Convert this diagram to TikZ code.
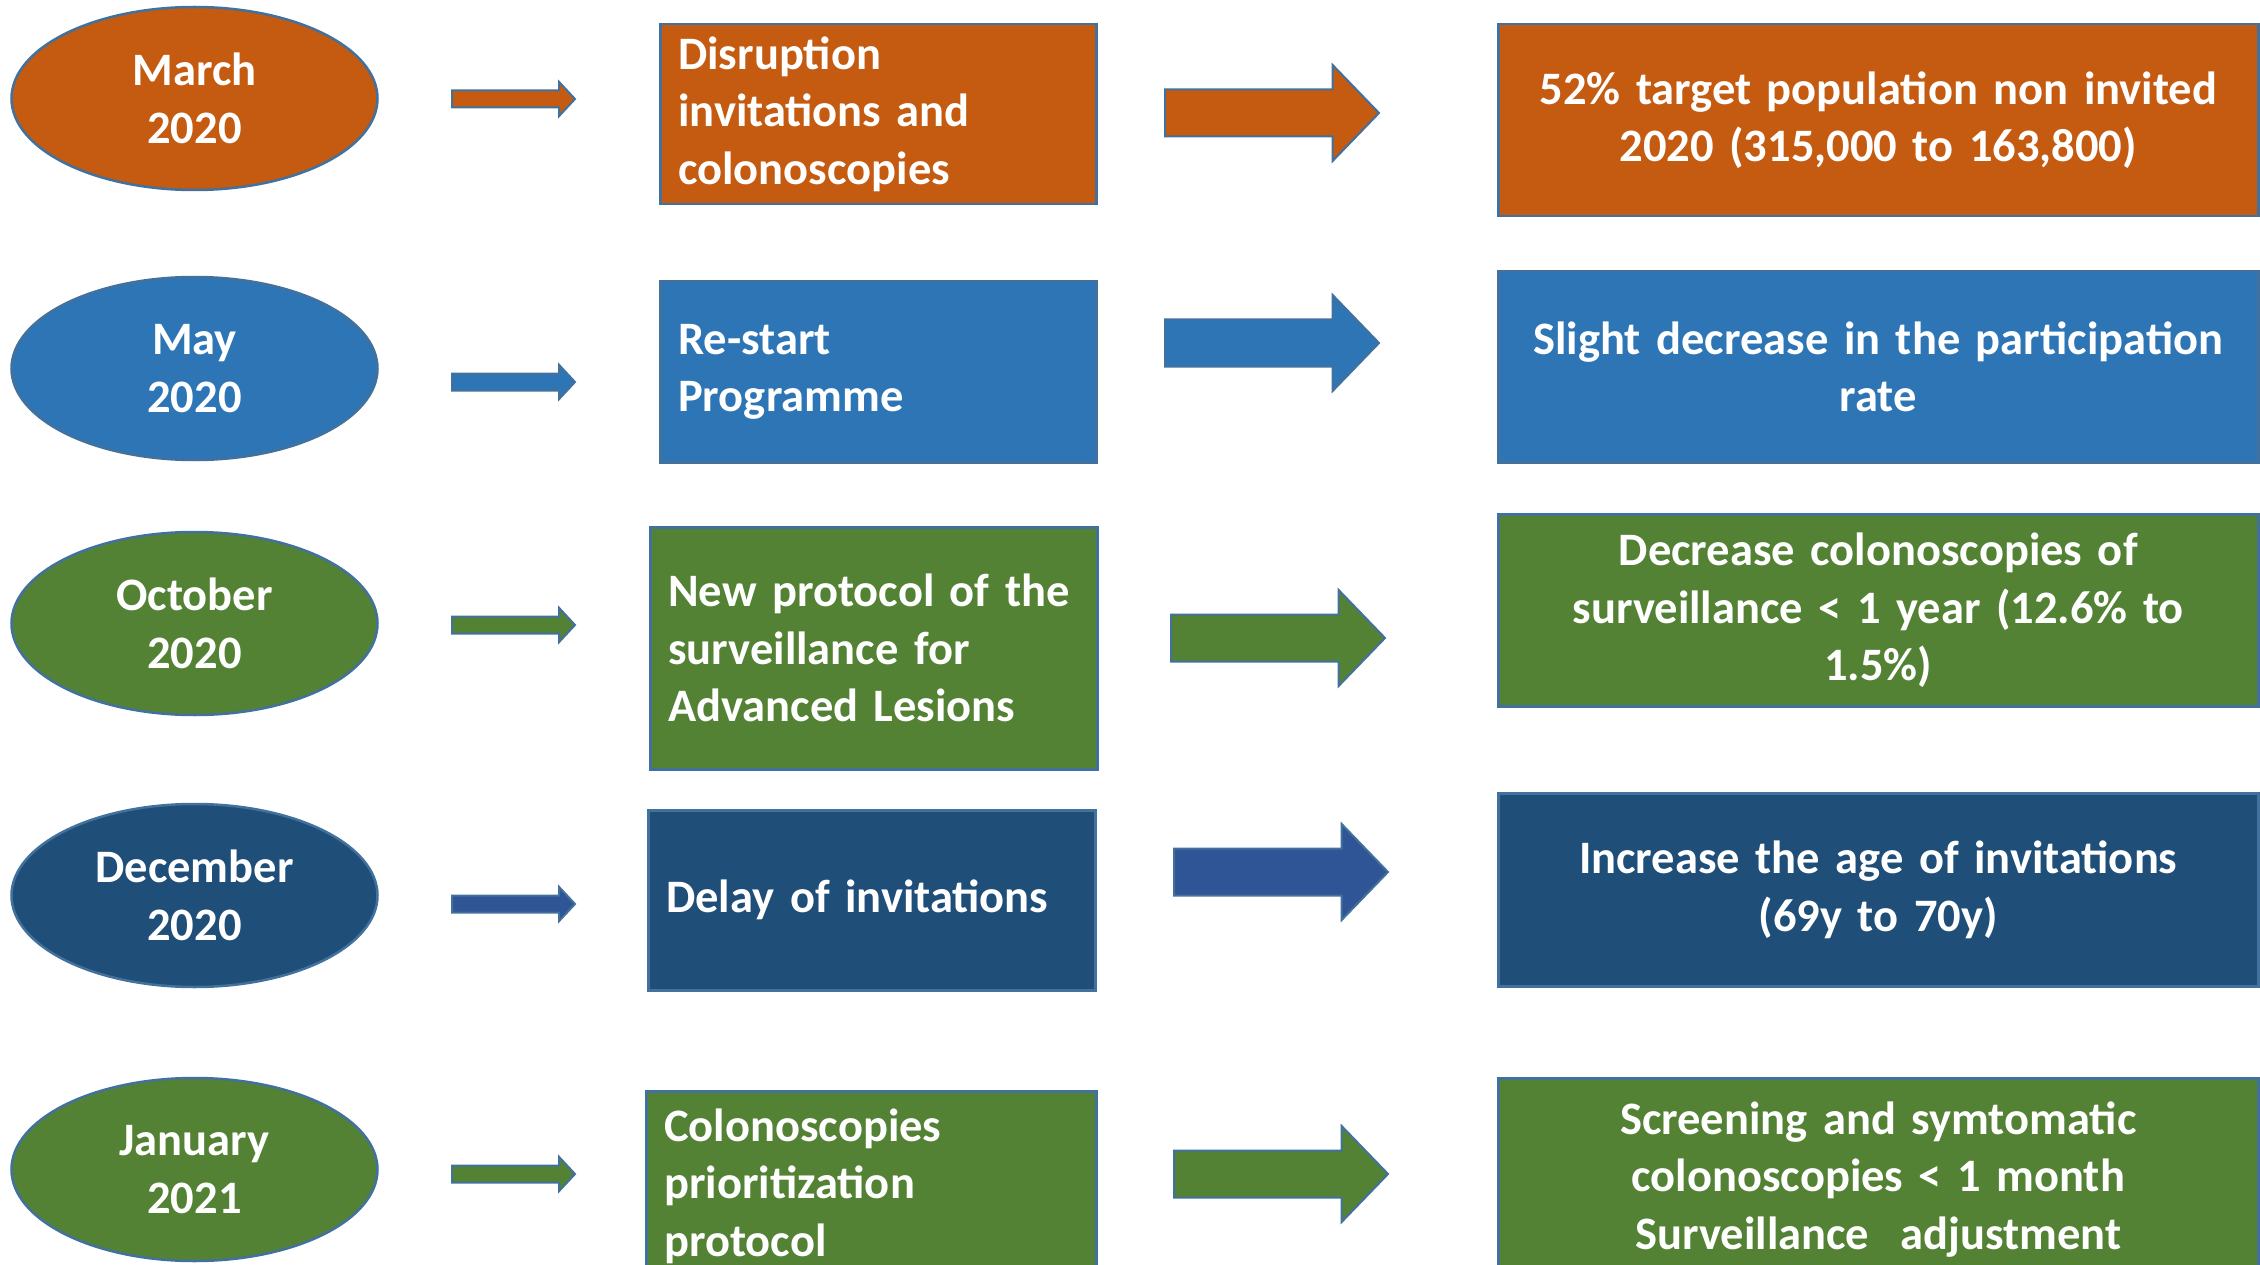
\documentclass[tikz,border=0pt]{standalone}
\usepackage{fontspec}
\setmainfont{Carlito}
\usetikzlibrary{shapes.geometric,shapes.arrows}
\definecolor{mOrange}{HTML}{C55A11}
\definecolor{mBlue}{HTML}{2E75B6}
\definecolor{mGreen}{HTML}{548235}
\definecolor{mNavy}{HTML}{1F4E79}
\definecolor{mArrow}{HTML}{2F5597}
\definecolor{mEdge}{HTML}{41719C}
\newcommand{\boxfont}{\fontsize{46.5}{57.6}\selectfont\bfseries}
\tikzset{
	month/.style={ellipse, draw=mEdge, line width=2.5pt, minimum width=366, minimum height=183,
		inner sep=0pt, text=white, align=center, font=\boxfont},
	action/.style={rectangle, draw=mEdge, line width=2.5pt, anchor=north west, inner xsep=18pt,
		text=white, align=left, font=\boxfont},
	result/.style={rectangle, draw=mEdge, line width=2.5pt, anchor=north west, minimum width=760,
		inner xsep=20pt, text width=720, text=white, align=center, font=\boxfont},
	thinarrow/.style={single arrow, draw=mEdge, line width=2pt, anchor=tail, inner sep=7.5pt,
		minimum height=123, single arrow head extend=8.5pt, single arrow tip angle=94},
	fatarrow/.style={single arrow, draw=mEdge, line width=2pt, anchor=tail, inner sep=22.5pt,
		minimum height=214, single arrow head extend=24.5pt, single arrow tip angle=92}
}
\begin{document}
\begin{tikzpicture}[x=1pt,y=-1pt]
		\useasboundingbox (0,0) rectangle (2260,1265);
		\clip (0,0) rectangle (2260,1265);
		\node[month, fill=mOrange] (m1) at (194.5,98.5) {March\\2020};
		\node[month, fill=mBlue] (m2) at (194.5,368.5) {May\\2020};
		\node[month, fill=mGreen] (m3) at (194.5,623.5) {October\\2020};
		\node[month, fill=mNavy] (m4) at (194.5,895.5) {December\\2020};
		\node[month, fill=mGreen] (m5) at (194.5,1169.5) {January\\2021};
		\node[thinarrow, fill=mOrange] (t1) at (451,99) {};
		\node[thinarrow, fill=mBlue] (t2) at (451,382) {};
		\node[thinarrow, fill=mGreen] (t3) at (451,625) {};
		\node[thinarrow, fill=mArrow] (t4) at (451,904) {};
		\node[thinarrow, fill=mGreen] (t5) at (451,1174) {};
		\node[action, fill=mOrange, minimum width=436, minimum height=180, text width=400, inner xsep=18pt]
			(a1) at (659,23) {Disruption\\invitations and\\colonoscopies};
		\node[action, fill=mBlue, minimum width=436, minimum height=181, text width=400]
			(a2) at (659,280) {Re-start\\Programme};
		\node[action, fill=mGreen, minimum width=445, minimum height=242, text width=411]
			(a3) at (649,526) {New protocol of the\\surveillance for\\Advanced Lesions};
		\node[action, fill=mNavy, minimum width=447, minimum height=180, text width=411]
			(a4) at (647,809) {Delay of invitations};
		\node[action, fill=mGreen, minimum width=450, minimum height=190, text width=414]
			(a5) at (645,1090) {Colonoscopies\\prioritization\\protocol};
		\node[fatarrow, fill=mOrange] (f1) at (1164,113) {};
		\node[fatarrow, fill=mBlue] (f2) at (1164,343) {};
		\node[fatarrow, fill=mGreen] (f3) at (1170,638) {};
		\node[fatarrow, fill=mArrow] (f4) at (1173,872) {};
		\node[fatarrow, fill=mGreen] (f5) at (1173,1174) {};
		\node[result, fill=mOrange, minimum height=192] (r1) at (1497,23)
			{52\% target population non invited\\2020 (315,000 to 163,800)};
		\node[result, fill=mBlue, minimum height=191] (r2) at (1497,270)
			{Slight decrease in the participation\\rate};
		\node[result, fill=mGreen, minimum height=192] (r3) at (1497,513)
			{Decrease colonoscopies of\\surveillance < 1 year (12.6\% to\\1.5\%)};
		\node[result, fill=mNavy, minimum height=193] (r4) at (1497,792)
			{Increase the age of invitations\\(69y to 70y)};
		\node[result, fill=mGreen, minimum height=202] (r5) at (1497,1077)
			{Screening and symtomatic\\colonoscopies < 1 month\\Surveillance\ \ adjustment};
	\end{tikzpicture}
\end{document}
